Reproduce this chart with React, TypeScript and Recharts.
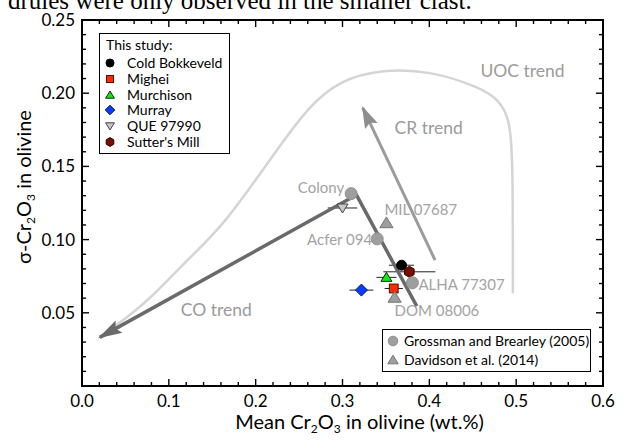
import React from "react";
import { ErrorBar, Legend, Scatter, ScatterChart, XAxis, YAxis } from "recharts";

const CHART_WIDTH = 626;
const CHART_HEIGHT = 440;
const MARGIN = { top: 20, right: 23, bottom: 0, left: 0 };
const Y_AXIS_WIDTH = 82;
const X_AXIS_HEIGHT = 54;
const PLOT_LEFT = MARGIN.left + Y_AXIS_WIDTH;
const PLOT_TOP = MARGIN.top;
const PLOT_WIDTH = CHART_WIDTH - MARGIN.left - MARGIN.right - Y_AXIS_WIDTH;
const PLOT_HEIGHT = CHART_HEIGHT - MARGIN.top - MARGIN.bottom - X_AXIS_HEIGHT;

const X_DOMAIN: [number, number] = [0, 0.6];
const Y_DOMAIN: [number, number] = [0, 0.25];

const FONT = "Lato, 'Open Sans', sans-serif";

// axis ticks (major every 0.1 / 0.05, minor every 0.02 / 0.01)
const xTicks = [
  0, 0.02, 0.04, 0.06, 0.08, 0.1, 0.12, 0.14, 0.16, 0.18, 0.2, 0.22, 0.24, 0.26, 0.28, 0.3,
  0.32, 0.34, 0.36, 0.38, 0.4, 0.42, 0.44, 0.46, 0.48, 0.5, 0.52, 0.54, 0.56, 0.58, 0.6,
];
const yTicks = [
  0, 0.01, 0.02, 0.03, 0.04, 0.05, 0.06, 0.07, 0.08, 0.09, 0.1, 0.11, 0.12, 0.13, 0.14,
  0.15, 0.16, 0.17, 0.18, 0.19, 0.2, 0.21, 0.22, 0.23, 0.24, 0.25,
];

// this study
const studyNames = ["Cold Bokkeveld", "Mighei", "Murchison", "Murray", "QUE 97990", "Sutter's Mill"];
const studyMeanCr = [0.368, 0.359, 0.3506, 0.3218, 0.3, 0.377];
const studySigmaCr = [0.0825, 0.0666, 0.0742, 0.0655, 0.1216, 0.078];
const studyMeanErr = [0.0145, 0.0105, 0.0115, 0.0138, 0.017, 0.03];

// literature
const refNames = ["Grossman and Brearley (2005)", "Davidson et al. (2014)"];
const grossmanNames = ["Colony", "Acfer 094", "ALHA 77307"];
const grossmanMeanCr = [0.31, 0.34, 0.3805];
const grossmanSigmaCr = [0.1314, 0.1005, 0.0705];
const davidsonNames = ["MIL 07687", "DOM 08006"];
const davidsonMeanCr = [0.3506, 0.36];
const davidsonSigmaCr = [0.1114, 0.0605];

// trends
const coTrendX = [0.3855, 0.316, 0.0205];
const coTrendY = [0.0546, 0.1305, 0.0332];
const crTrendX = [0.4066, 0.3234];
const crTrendY = [0.086, 0.19];
const uocTrendX = [0.0318, 0.0742, 0.1202, 0.1624, 0.2239, 0.2622, 0.2968, 0.343, 0.4006, 0.4582, 0.4812, 0.4928, 0.4962, 0.4962];
const uocTrendY = [0.0382, 0.0566, 0.0859, 0.1087, 0.161, 0.1917, 0.2087, 0.2162, 0.2155, 0.204, 0.1951, 0.1814, 0.1542, 0.0634];

const trendLabelNames = ["CO trend", "CR trend", "UOC trend"];
const trendLabelX = [0.1546, 0.3993, 0.5073];
const trendLabelY = [0.0522, 0.176, 0.2149];

type MarkerKind = "circle" | "square" | "triangle" | "triangleDown" | "diamond" | "hexagon";

const seriesStyle: Record<string, { kind: MarkerKind; fill: string; stroke: string; r: number }> = {
  "Cold Bokkeveld": { kind: "circle", fill: "#000000", stroke: "#000000", r: 5 },
  Mighei: { kind: "square", fill: "#ff2a00", stroke: "#4a1000", r: 4.4 },
  Murchison: { kind: "triangle", fill: "#14e614", stroke: "#0a300a", r: 5 },
  Murray: { kind: "diamond", fill: "#0a3cff", stroke: "#0b1a55", r: 6 },
  "QUE 97990": { kind: "triangleDown", fill: "#c8c8c8", stroke: "#444444", r: 5 },
  "Sutter's Mill": { kind: "hexagon", fill: "#7a0c00", stroke: "#2a0000", r: 5.5 },
  "Grossman and Brearley (2005)": { kind: "circle", fill: "#9e9e9e", stroke: "#909090", r: 6 },
  "Davidson et al. (2014)": { kind: "triangle", fill: "#9e9e9e", stroke: "#747474", r: 6 },
};

const pointLabelPlacement: Record<string, { anchor: "start" | "end"; dx: number; dy: number }> = {
  Colony: { anchor: "end", dx: -7, dy: -1 },
  "Acfer 094": { anchor: "end", dx: -5, dy: 6 },
  "ALHA 77307": { anchor: "start", dx: 6, dy: 7 },
  "MIL 07687": { anchor: "start", dx: -2, dy: -8 },
  "DOM 08006": { anchor: "start", dx: 0, dy: 19 },
};

const arrowStyle: Record<string, { len: number; half: number; fill: string }> = {
  co: { len: 22, half: 7, fill: "#6a6a6a" },
  cr: { len: 20, half: 7, fill: "#8e8e8e" },
};

const pairs = (xs: number[], ys: number[]) => xs.map((x, i) => ({ x, y: ys[i] }));

const studyData = studyNames.map((name, i) => [
  { name, x: studyMeanCr[i], y: studySigmaCr[i], err: studyMeanErr[i] },
]);
const grossmanData = grossmanNames.map((name, i) => ({ name, x: grossmanMeanCr[i], y: grossmanSigmaCr[i] }));
const davidsonData = davidsonNames.map((name, i) => ({ name, x: davidsonMeanCr[i], y: davidsonSigmaCr[i] }));
const trendLabels = trendLabelNames.map((name, i) => ({ name, x: trendLabelX[i], y: trendLabelY[i] }));

const tipOf = (trend: string, xs: number[], ys: number[]) => [
  { trend, x: xs[xs.length - 1], y: ys[ys.length - 1], fromX: xs[xs.length - 2], fromY: ys[ys.length - 2] },
];

function isMultiple(v: number, step: number) {
  const q = v / step;
  return Math.abs(q - Math.round(q)) < 1e-6;
}

function Marker({ kind, cx, cy, r, fill, stroke }: { kind: MarkerKind; cx: number; cy: number; r: number; fill: string; stroke: string }) {
  const common = { fill, stroke, strokeWidth: 1 };
  switch (kind) {
    case "circle":
      return <circle cx={cx} cy={cy} r={r} {...common} />;
    case "square":
      return <rect x={cx - r} y={cy - r} width={2 * r} height={2 * r} {...common} />;
    case "triangle":
      return <polygon points={`${cx},${cy - r} ${cx + r * 1.1},${cy + r * 0.8} ${cx - r * 1.1},${cy + r * 0.8}`} {...common} />;
    case "triangleDown":
      return <polygon points={`${cx - r * 1.1},${cy - r * 0.8} ${cx + r * 1.1},${cy - r * 0.8} ${cx},${cy + r}`} {...common} />;
    case "diamond":
      return <polygon points={`${cx},${cy - r} ${cx + r},${cy} ${cx},${cy + r} ${cx - r},${cy}`} {...common} />;
    default: {
      const pts = [0, 1, 2, 3, 4, 5]
        .map((k) => {
          const a = (Math.PI / 3) * k + Math.PI / 6;
          return `${cx + r * Math.cos(a)},${cy + r * Math.sin(a)}`;
        })
        .join(" ");
      return <polygon points={pts} {...common} />;
    }
  }
}

function StudyShape(props: any) {
  const { cx, cy, payload } = props;
  const s = seriesStyle[payload.name];
  return <Marker kind={s.kind} cx={cx} cy={cy} r={s.r} fill={s.fill} stroke={s.stroke} />;
}

function refShape(series: string) {
  return (props: any) => {
    const { cx, cy, payload } = props;
    const s = seriesStyle[series];
    const p = pointLabelPlacement[payload.name];
    return (
      <g>
        <Marker kind={s.kind} cx={cx} cy={cy} r={s.r} fill={s.fill} stroke={s.stroke} />
        <text x={cx + p.dx} y={cy + p.dy} textAnchor={p.anchor} fontSize={15} fontFamily={FONT} fill="#a3a3a3">
          {payload.name}
        </text>
      </g>
    );
  };
}

function TrendLabel(props: any) {
  const { cx, cy, payload } = props;
  return (
    <text x={cx} y={cy + 6} textAnchor="middle" fontSize={17.5} fontFamily={FONT} fill="#9b9b9b">
      {payload.name}
    </text>
  );
}

function ArrowHead(props: any) {
  const { cx, cy, payload } = props;
  const dxPx = ((payload.x - payload.fromX) * PLOT_WIDTH) / (X_DOMAIN[1] - X_DOMAIN[0]);
  const dyPx = (-(payload.y - payload.fromY) * PLOT_HEIGHT) / (Y_DOMAIN[1] - Y_DOMAIN[0]);
  const deg = (Math.atan2(dyPx, dxPx) * 180) / Math.PI;
  const { len, half, fill } = arrowStyle[payload.trend];
  return (
    <polygon
      points={`2,0 ${-len},${-half} ${-len * 0.82},0 ${-len},${half}`}
      transform={`translate(${cx},${cy}) rotate(${deg})`}
      fill={fill}
    />
  );
}

const noShape = () => <g />;

function BottomTick({ x, y, payload }: any) {
  const v = Number(payload.value);
  const major = isMultiple(v, 0.1);
  return (
    <g>
      <line x1={x} x2={x} y1={y} y2={y - (major ? 7 : 4)} stroke="#000" strokeWidth={1.4} />
      {major && (
        <text x={x} y={y + 21} textAnchor="middle" fontSize={17} fontFamily={FONT} fill="#000">
          {v.toFixed(1)}
        </text>
      )}
    </g>
  );
}

function LeftTick({ x, y, payload }: any) {
  const v = Number(payload.value);
  const major = isMultiple(v, 0.05);
  return (
    <g>
      <line x1={x} x2={x + (major ? 7 : 4)} y1={y} y2={y} stroke="#000" strokeWidth={1.4} />
      {major && v > 0 && (
        <text x={x - 7} y={y + 6} textAnchor="end" fontSize={17} fontFamily={FONT} fill="#000">
          {v.toFixed(2)}
        </text>
      )}
    </g>
  );
}

function XTitle({ viewBox }: any) {
  return (
    <text x={viewBox.x + viewBox.width / 2 + 17} y={viewBox.y + 43} textAnchor="middle" fontSize={20} fontFamily={FONT} fill="#000">
      Mean Cr
      <tspan dy={4} fontSize={12}>2</tspan>
      <tspan dy={-4}>O</tspan>
      <tspan dy={4} fontSize={12}>3</tspan>
      <tspan dy={-4}> in olivine (wt.%)</tspan>
    </text>
  );
}

function YTitle({ viewBox }: any) {
  const cx = 31;
  const cy = viewBox.y + viewBox.height / 2 - 16;
  return (
    <text x={cx} y={cy} transform={`rotate(-90 ${cx} ${cy})`} textAnchor="middle" fontSize={20} fontFamily={FONT} fill="#000">
      σ-Cr
      <tspan dy={4} fontSize={12}>2</tspan>
      <tspan dy={-4}>O</tspan>
      <tspan dy={4} fontSize={12}>3</tspan>
      <tspan dy={-4}> in olivine</tspan>
    </text>
  );
}

// mirrored top/right frame with inward ticks, laid over the chart
function MirrorFrame() {
  const xAt = (v: number) => ((v - X_DOMAIN[0]) / (X_DOMAIN[1] - X_DOMAIN[0])) * PLOT_WIDTH;
  const yAt = (v: number) => PLOT_HEIGHT - ((v - Y_DOMAIN[0]) / (Y_DOMAIN[1] - Y_DOMAIN[0])) * PLOT_HEIGHT;
  return (
    <svg
      width={PLOT_WIDTH + 4}
      height={PLOT_HEIGHT + 4}
      style={{ position: "absolute", left: PLOT_LEFT - 2, top: PLOT_TOP - 2, zIndex: 5, pointerEvents: "none", overflow: "visible" }}
    >
      <g transform="translate(2,2)">
        <polyline
          points={`0,0 ${PLOT_WIDTH},0 ${PLOT_WIDTH},${PLOT_HEIGHT}`}
          fill="none"
          stroke="#000"
          strokeWidth={2}
          strokeLinecap="square"
        />
        {xTicks.map((v) => (
          <line key={`t${v}`} x1={xAt(v)} x2={xAt(v)} y1={0} y2={isMultiple(v, 0.1) ? 7 : 4} stroke="#000" strokeWidth={1.4} />
        ))}
        {yTicks.map((v) => (
          <line
            key={`r${v}`}
            x1={PLOT_WIDTH}
            x2={PLOT_WIDTH - (isMultiple(v, 0.05) ? 7 : 4)}
            y1={yAt(v)}
            y2={yAt(v)}
            stroke="#000"
            strokeWidth={1.4}
          />
        ))}
      </g>
    </svg>
  );
}

function LegendIcon({ name, size }: { name: string; size: number }) {
  const s = seriesStyle[name];
  return (
    <svg width={size} height={size} style={{ position: "absolute", left: -size / 2, top: -size / 2 }}>
      <Marker kind={s.kind} cx={size / 2} cy={size / 2} r={s.r * 0.8} fill={s.fill} stroke={s.stroke} />
    </svg>
  );
}

function LegendBoxes({ payload }: any) {
  const present: string[] = (payload ?? []).map((p: any) => String(p.value));
  // keep the figure's own order rather than the sorted legend payload
  const study = studyNames.filter((n) => present.includes(n));
  const refs = refNames.filter((n) => present.includes(n));
  const box = {
    position: "absolute" as const,
    boxSizing: "border-box" as const,
    border: "1.5px solid #000",
    background: "#fff",
    fontFamily: FONT,
    fontSize: 14,
    color: "#000",
  };
  const row = (name: string, top: number, iconX: number, textX: number) => (
    <div key={name} style={{ position: "absolute", left: 0, top, width: "100%", height: 0 }}>
      <div style={{ position: "absolute", left: iconX, top: 0 }}>
        <LegendIcon name={name} size={14} />
      </div>
      <div style={{ position: "absolute", left: textX, top: -9, lineHeight: "18px", whiteSpace: "nowrap" }}>{name}</div>
    </div>
  );
  return (
    <div>
      <div style={{ ...box, left: 99, top: 33, width: 131, height: 121 }}>
        <div style={{ position: "absolute", left: 6, top: 2, lineHeight: "18px" }}>This study:</div>
        {study.map((n, i) => row(n, 29 + i * 15.8, 10, 27))}
      </div>
      <div style={{ ...box, left: 382, top: 329, width: 209, height: 43 }}>
        {refs.map((n, i) => row(n, 11 + i * 19.3, 10, 21))}
      </div>
    </div>
  );
}

const axisLineStyle = { stroke: "#000", strokeWidth: 2, strokeLinecap: "square" as const };

export default function App() {
  return (
    <div style={{ position: "absolute", left: 0, top: 0, width: CHART_WIDTH, height: CHART_HEIGHT, background: "#fff", overflow: "hidden" }}>
      <div
        style={{
          position: "absolute",
          left: 8,
          top: -12,
          fontFamily: "'Liberation Serif', serif",
          fontSize: 25,
          lineHeight: "25px",
          whiteSpace: "nowrap",
          color: "#000",
        }}
      >
        drules were only observed in the smaller clast.
      </div>
      <ScatterChart width={CHART_WIDTH} height={CHART_HEIGHT} margin={MARGIN}>
        <XAxis
          xAxisId="x"
          dataKey="x"
          type="number"
          domain={X_DOMAIN}
          ticks={xTicks}
          interval={0}
          height={X_AXIS_HEIGHT}
          tickSize={0}
          tickMargin={0}
          tickLine={false}
          tick={BottomTick}
          axisLine={axisLineStyle}
          label={XTitle}
        />
        <YAxis
          yAxisId="y"
          dataKey="y"
          type="number"
          domain={Y_DOMAIN}
          ticks={yTicks}
          interval={0}
          width={Y_AXIS_WIDTH}
          tickSize={0}
          tickMargin={0}
          tickLine={false}
          tick={LeftTick}
          axisLine={axisLineStyle}
          label={YTitle}
        />

        <Scatter
          xAxisId="x"
          yAxisId="y"
          data={pairs(uocTrendX, uocTrendY)}
          line={{ stroke: "#d4d4d4", strokeWidth: 2.5 }}
          lineJointType="basis"
          shape={noShape}
          legendType="none"
          isAnimationActive={false}
        />
        <Scatter
          xAxisId="x"
          yAxisId="y"
          data={pairs(crTrendX, crTrendY)}
          line={{ stroke: "#9c9c9c", strokeWidth: 3 }}
          shape={noShape}
          legendType="none"
          isAnimationActive={false}
        />
        <Scatter
          xAxisId="x"
          yAxisId="y"
          data={pairs(coTrendX, coTrendY)}
          line={{ stroke: "#6a6a6a", strokeWidth: 3.5, strokeLinejoin: "round" }}
          shape={noShape}
          legendType="none"
          isAnimationActive={false}
        />
        <Scatter xAxisId="x" yAxisId="y" data={tipOf("cr", crTrendX, crTrendY)} shape={ArrowHead} legendType="none" isAnimationActive={false} />
        <Scatter xAxisId="x" yAxisId="y" data={tipOf("co", coTrendX, coTrendY)} shape={ArrowHead} legendType="none" isAnimationActive={false} />
        <Scatter xAxisId="x" yAxisId="y" data={trendLabels} shape={TrendLabel} legendType="none" isAnimationActive={false} />

        {studyNames.map((name, i) => (
          <Scatter
            key={name}
            name={name}
            xAxisId="x"
            yAxisId="y"
            data={studyData[i]}
            fill={seriesStyle[name].fill}
            shape={StudyShape}
            isAnimationActive={false}
          >
            <ErrorBar dataKey="err" direction="x" width={0} stroke="#222" strokeWidth={1} />
          </Scatter>
        ))}
        <Scatter
          name={refNames[0]}
          xAxisId="x"
          yAxisId="y"
          data={grossmanData}
          fill="#9e9e9e"
          shape={refShape(refNames[0])}
          isAnimationActive={false}
        />
        <Scatter
          name={refNames[1]}
          xAxisId="x"
          yAxisId="y"
          data={davidsonData}
          fill="#9e9e9e"
          shape={refShape(refNames[1])}
          isAnimationActive={false}
        />

        <Legend
          content={LegendBoxes}
          layout="vertical"
          align="center"
          verticalAlign="middle"
          wrapperStyle={{ left: 0, top: 0, width: CHART_WIDTH, height: CHART_HEIGHT, pointerEvents: "none" }}
        />
      </ScatterChart>
      <MirrorFrame />
    </div>
  );
}
